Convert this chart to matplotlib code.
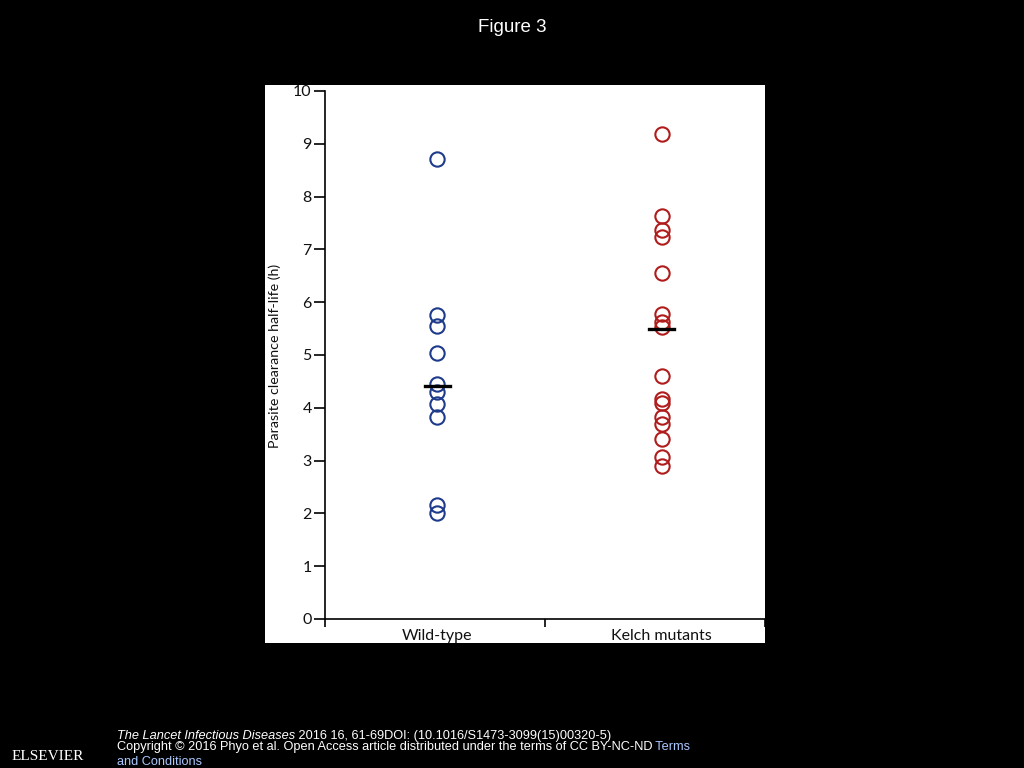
import matplotlib.pyplot as plt

# values
groups = ['Wild-type', 'Kelch mutants']
group_x = [0.51, 1.53]
wild_type = [8.71, 5.76, 5.54, 5.04, 4.46, 4.30, 4.07, 3.83, 2.16, 2.01]
kelch = [9.18, 7.63, 7.37, 7.23, 6.55, 5.78, 5.62, 5.53, 4.60, 4.17, 4.10,
         3.83, 3.69, 3.41, 3.07, 2.90]
medians = [4.42, 5.49]
y_ticks = [0, 1, 2, 3, 4, 5, 6, 7, 8, 9, 10]

blue = '#1e3a8a'
red = '#b01c1c'
chart_font = 'Lato'

fig = plt.figure(figsize=(10.24, 7.68), dpi=100, facecolor='black')
W, H = 1024, 768

def fx(px):
    return px / W

def fy(py):
    return 1 - py / H

# white panel behind the chart
bg = fig.add_axes([fx(265), fy(643), fx(765) - fx(265), fy(85) - fy(643)], zorder=-1)
bg.axis('off')
bg.add_patch(plt.Rectangle((0, 0), 1, 1, transform=bg.transAxes, color='white'))

ax = fig.add_axes([fx(325), fy(619), fx(765) - fx(325), fy(91) - fy(619)])
ax.patch.set_alpha(0)

for i, (vals, col) in enumerate([(wild_type, blue), (kelch, red)]):
    ax.plot([group_x[i]] * len(vals), vals, 'o', markersize=10.3, markerfacecolor='none',
            markeredgecolor=col, markeredgewidth=1.5, clip_on=False)
    ax.plot([group_x[i] - 0.057, group_x[i] + 0.057], [medians[i], medians[i]],
            color='black', lw=2.4)

ax.set_xlim(0, 2)
ax.set_ylim(0, 10)
ax.set_yticks(y_ticks)
ax.set_xticks([0, 1, 2])
ax.set_xticklabels([])
ax.set_xticks(group_x, minor=True)
ax.set_xticklabels(groups, minor=True, fontsize=11.5, family=chart_font, color='#111111')
ax.tick_params(axis='x', which='minor', length=0, pad=7)
ax.tick_params(axis='x', which='major', length=6, width=1.2, direction='out')
ax.tick_params(axis='y', length=8, width=1.2, direction='out', pad=1.5,
               labelsize=11.5, labelcolor='#111111')
for lab in ax.get_yticklabels():
    lab.set_family(chart_font)

ax.spines['top'].set_visible(False)
ax.spines['right'].set_visible(False)
ax.spines['left'].set_linewidth(1.2)
ax.spines['bottom'].set_linewidth(1.2)
ax.set_ylabel('Parasite clearance half-life (h)', fontsize=10.3, family=chart_font,
              color='#111111')
ax.yaxis.set_label_coords(-0.1, 0.498)

fig.text(0.5, fy(27), 'Figure 3', color='white', ha='center', va='center',
         fontsize=13.5, family='Liberation Sans')

foot = dict(color='white', fontsize=9.2, family='Liberation Sans')
t1 = fig.text(fx(117), fy(736), 'The Lancet Infectious Diseases', style='italic',
              va='center', **foot)
ax.annotate(' 2016 16, 61-69DOI: (10.1016/S1473-3099(15)00320-5)', xy=(1, 0.5),
            xycoords=t1, va='center', ha='left', annotation_clip=False, **foot)
t2 = fig.text(fx(117), fy(747), 'Copyright \u00a9 2016 Phyo et al. Open Access article '
              'distributed under the terms of CC BY-NC-ND', va='center', **foot)
ax.annotate(' Terms', xy=(1, 0.5), xycoords=t2, va='center', ha='left',
            annotation_clip=False, color='#aac8ff', fontsize=9.2, family='Liberation Sans')
fig.text(fx(117), fy(762), 'and Conditions', va='center', color='#aac8ff', fontsize=9.2,
         family='Liberation Sans')
fig.text(fx(48), fy(757), 'ELSEVIER', color='white', fontsize=11, family='Liberation Serif',
         ha='center', va='center')

fig.savefig('out.png', dpi=100, facecolor='black')
